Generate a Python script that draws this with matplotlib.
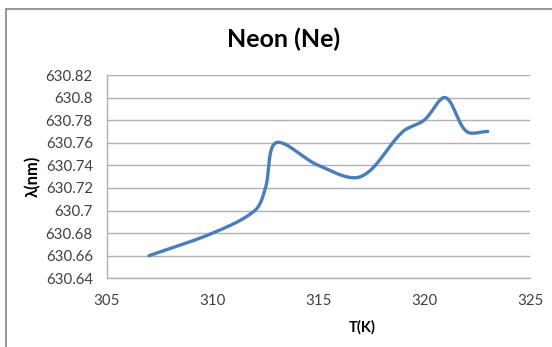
import numpy as np
import matplotlib
matplotlib.use("Agg")
import matplotlib.pyplot as plt
from matplotlib.patches import Rectangle

# Measured emission wavelength of neon versus temperature
temperature_K = [307, 310, 312, 312.5, 313, 315, 317, 319, 320, 321, 322, 323]
wavelength_nm = [630.66, 630.68, 630.70, 630.72, 630.76, 630.74, 630.73,
                 630.77, 630.78, 630.80, 630.77, 630.77]

x_ticks = [305, 310, 315, 320, 325]
y_ticks = [630.64, 630.66, 630.68, 630.70, 630.72, 630.74, 630.76, 630.78, 630.80, 630.82]
y_tick_labels = ["630.64", "630.66", "630.68", "630.7", "630.72", "630.74",
                 "630.76", "630.78", "630.8", "630.82"]

title = "Neon (Ne)"
x_label = "T(K)"
y_label = "λ(nm)"


def smooth_curve(xs, ys, kx, ky, samples=60):
    """Smoothed line through every point: cubic Bezier segments whose tangents
    are chord-length weighted in screen units (kx, ky = pixels per data unit)."""
    p = np.column_stack([np.asarray(xs, float) * kx, np.asarray(ys, float) * ky])
    n = len(p)
    d = np.hypot(*np.diff(p, axis=0).T)
    tang = np.zeros_like(p)
    for i in range(n):
        a = p[i - 1] if i > 0 else p[i]
        b = p[i + 1] if i < n - 1 else p[i]
        la = d[i - 1] if i > 0 else 0.0
        lb = d[i] if i < n - 1 else 0.0
        tang[i] = (b - a) / (la + lb)
    out = []
    t = np.linspace(0, 1, samples)[:, None]
    for i in range(n - 1):
        p1, p2 = p[i], p[i + 1]
        c1 = p1 + tang[i] * d[i] / 3.0
        c2 = p2 - tang[i + 1] * d[i] / 3.0
        seg = ((1 - t) ** 3) * p1 + 3 * ((1 - t) ** 2) * t * c1 \
            + 3 * (1 - t) * t ** 2 * c2 + t ** 3 * p2
        out.append(seg if i == 0 else seg[1:])
    pts = np.vstack(out)
    return pts[:, 0] / kx, pts[:, 1] / ky


plt.rcParams["font.family"] = ["Lato", "DejaVu Sans"]

W, H = 552, 347
fig = plt.figure(figsize=(W / 100, H / 100), dpi=100)
fig.patch.set_facecolor("white")

# Chart-area border
fig.patches.append(Rectangle((5.8 / W, -0.2), 1.2, 1.2 - 9.0 / H,
                             transform=fig.transFigure, fill=False,
                             edgecolor="#8e8e8e", linewidth=1.3))

left, right = 106.7 / W, 530 / W
bottom, top = 1 - 278.3 / H, 1 - 75 / H
ax = fig.add_axes([left, bottom, right - left, top - bottom])

xlim = (305, 325)
ylim = (630.64, 630.82)
kx = (right - left) * W / (xlim[1] - xlim[0])
ky = (top - bottom) * H / (ylim[1] - ylim[0])
sx, sy = smooth_curve(temperature_K, wavelength_nm, kx, ky)
ax.plot(sx, sy, color="#4a7ebb", linewidth=2.4, solid_capstyle="round", zorder=3)

ax.set_xlim(*xlim)
ax.set_ylim(*ylim)
ax.set_xticks(x_ticks)
ax.set_xticklabels([str(v) for v in x_ticks])
ax.set_yticks(y_ticks)
ax.set_yticklabels(y_tick_labels)

ax.grid(axis="y", color="#b0b0b0", linewidth=1.0)
ax.set_axisbelow(True)
for side in ("top", "right"):
    ax.spines[side].set_visible(False)
for side in ("left", "bottom"):
    ax.spines[side].set_color("#b0b0b0")
    ax.spines[side].set_linewidth(1.0)

ax.tick_params(axis="both", length=0, labelsize=10.8, colors="#404040")
ax.tick_params(axis="y", pad=10)
ax.tick_params(axis="x", pad=11)

fig.text(284 / W, 1 - 39 / H, title, ha="center", va="center",
         fontsize=18, fontweight="bold", color="black")
fig.text(362.5 / W, 1 - 327 / H, x_label, ha="center", va="center",
         fontsize=10.5, fontweight="bold", color="black")
fig.text(33 / W, 1 - 176 / H, y_label, ha="center", va="center", rotation=90,
         fontsize=12, fontweight="bold", color="black")

fig.savefig("out.png", dpi=100)
